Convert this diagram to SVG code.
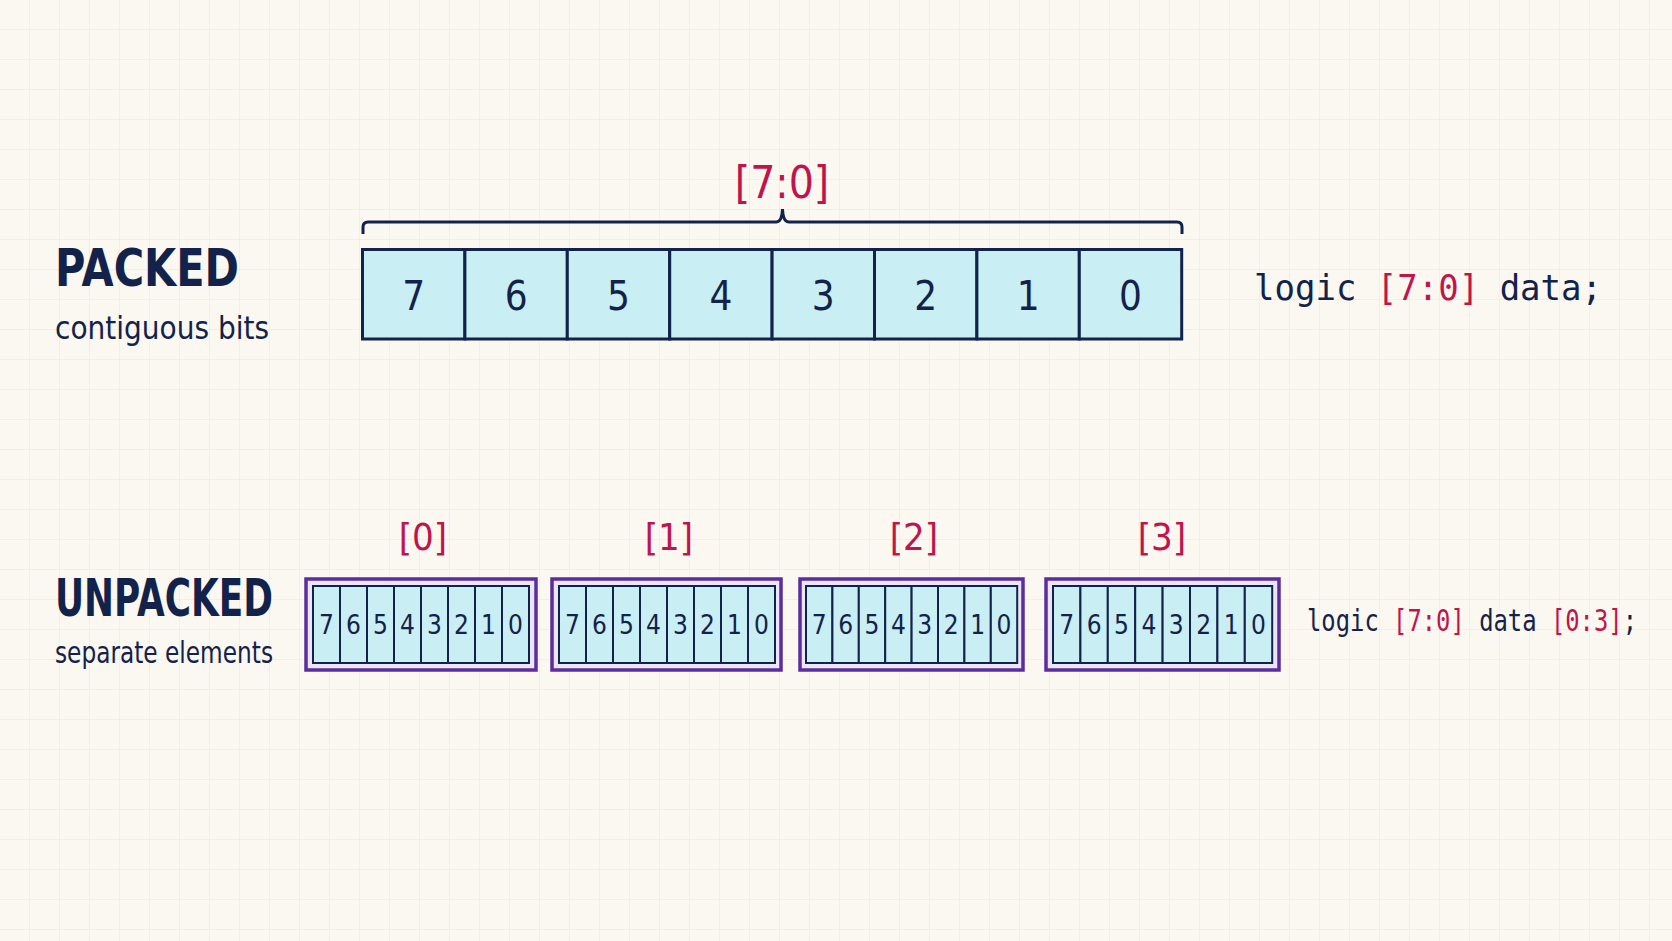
<svg xmlns="http://www.w3.org/2000/svg" width="1672" height="941" viewBox="0 0 1672 941">
<defs>
<pattern id="grid" width="30" height="30" patternUnits="userSpaceOnUse"><path d="M30 0V30H0" fill="none" stroke="#ebe8dc" stroke-width="1"/></pattern>
<style>
.cell{fill:#c9eef3;stroke:#13224a;stroke-width:3}
.icell{fill:#c9eef3;stroke:#13224a;stroke-width:2}
.outer{fill:#ece5f3;stroke:#5b2d9e;stroke-width:3.5}
.num{font-family:"DejaVu Sans Condensed","DejaVu Sans",sans-serif;fill:#13224a;text-anchor:middle}
.red{fill:#c0154a}
.mono{font-family:"DejaVu Sans Mono","Liberation Mono",monospace;fill:#13224a}
.title{font-family:"DejaVu Sans",sans-serif;font-weight:bold;fill:#13224a}
.sub{font-family:"DejaVu Sans",sans-serif;fill:#13224a}
</style>
</defs>
<rect width="1672" height="941" fill="#faf8f0"/>
<rect width="1672" height="941" fill="url(#grid)"/>
<g id="packed-label">
<text class="title" x="55" y="286" font-size="52" textLength="184" lengthAdjust="spacingAndGlyphs">PACKED</text>
<text class="sub" x="55" y="339" font-size="32" textLength="214" lengthAdjust="spacingAndGlyphs">contiguous bits</text>
</g>
<g id="packed-range">
<path d="M363 234V227Q363 222 368 222H776Q782 222 782.5 209Q783 222 789 222H1177Q1182 222 1182 227V234" fill="none" stroke="#13224a" stroke-width="3"/>
<text class="num red" x="782" y="198" font-size="44">[7:0]</text>
</g>
<g id="packed-box">
<rect class="cell" x="362.5" y="249.5" width="102.4" height="89.5"/>
<rect class="cell" x="464.9" y="249.5" width="102.4" height="89.5"/>
<rect class="cell" x="567.3" y="249.5" width="102.4" height="89.5"/>
<rect class="cell" x="669.7" y="249.5" width="102.4" height="89.5"/>
<rect class="cell" x="772.1" y="249.5" width="102.4" height="89.5"/>
<rect class="cell" x="874.5" y="249.5" width="102.4" height="89.5"/>
<rect class="cell" x="976.9" y="249.5" width="102.4" height="89.5"/>
<rect class="cell" x="1079.3" y="249.5" width="102.4" height="89.5"/>
<g class="num" font-size="40">
<text x="413.7" y="310">7</text><text x="516.1" y="310">6</text><text x="618.5" y="310">5</text><text x="720.9" y="310">4</text><text x="823.3" y="310">3</text><text x="925.7" y="310">2</text><text x="1028.1" y="310">1</text><text x="1130.5" y="310">0</text>
</g>
</g>
<g id="packed-code">
<text class="mono" x="1254" y="300" font-size="36" textLength="348" lengthAdjust="spacingAndGlyphs">logic <tspan class="red">[7:0]</tspan> data;</text>
</g>
<g id="unpacked-label">
<text class="title" x="55" y="616" font-size="52" textLength="218" lengthAdjust="spacingAndGlyphs">UNPACKED</text>
<text class="sub" x="55" y="663" font-size="30" textLength="218" lengthAdjust="spacingAndGlyphs">separate elements</text>
</g>
<g id="elem0">
<text class="num red" x="423" y="550" font-size="38">[0]</text>
<rect class="outer" x="306" y="579" width="230" height="91"/>
<g transform="translate(313,586)">
<rect class="icell" x="0" y="0" width="27" height="77"/><rect class="icell" x="27" y="0" width="27" height="77"/><rect class="icell" x="54" y="0" width="27" height="77"/><rect class="icell" x="81" y="0" width="27" height="77"/><rect class="icell" x="108" y="0" width="27" height="77"/><rect class="icell" x="135" y="0" width="27" height="77"/><rect class="icell" x="162" y="0" width="27" height="77"/><rect class="icell" x="189" y="0" width="27" height="77"/>
<g class="num" font-size="26"><text x="13.5" y="48">7</text><text x="40.5" y="48">6</text><text x="67.5" y="48">5</text><text x="94.5" y="48">4</text><text x="121.5" y="48">3</text><text x="148.5" y="48">2</text><text x="175.5" y="48">1</text><text x="202.5" y="48">0</text></g>
</g>
</g>
<g id="elem1">
<text class="num red" x="669" y="550" font-size="38">[1]</text>
<rect class="outer" x="552" y="579" width="229" height="91"/>
<g transform="translate(559,586)">
<rect class="icell" x="0" y="0" width="27" height="77"/><rect class="icell" x="27" y="0" width="27" height="77"/><rect class="icell" x="54" y="0" width="27" height="77"/><rect class="icell" x="81" y="0" width="27" height="77"/><rect class="icell" x="108" y="0" width="27" height="77"/><rect class="icell" x="135" y="0" width="27" height="77"/><rect class="icell" x="162" y="0" width="27" height="77"/><rect class="icell" x="189" y="0" width="27" height="77"/>
<g class="num" font-size="26"><text x="13.5" y="48">7</text><text x="40.5" y="48">6</text><text x="67.5" y="48">5</text><text x="94.5" y="48">4</text><text x="121.5" y="48">3</text><text x="148.5" y="48">2</text><text x="175.5" y="48">1</text><text x="202.5" y="48">0</text></g>
</g>
</g>
<g id="elem2">
<text class="num red" x="914" y="550" font-size="38">[2]</text>
<rect class="outer" x="800" y="579" width="223" height="91"/>
<g transform="translate(806,586)">
<rect class="icell" x="0" y="0" width="26.4" height="77"/><rect class="icell" x="26.4" y="0" width="26.4" height="77"/><rect class="icell" x="52.8" y="0" width="26.4" height="77"/><rect class="icell" x="79.2" y="0" width="26.4" height="77"/><rect class="icell" x="105.6" y="0" width="26.4" height="77"/><rect class="icell" x="132" y="0" width="26.4" height="77"/><rect class="icell" x="158.4" y="0" width="26.4" height="77"/><rect class="icell" x="184.8" y="0" width="26.4" height="77"/>
<g class="num" font-size="26"><text x="13.2" y="48">7</text><text x="39.6" y="48">6</text><text x="66" y="48">5</text><text x="92.4" y="48">4</text><text x="118.8" y="48">3</text><text x="145.2" y="48">2</text><text x="171.6" y="48">1</text><text x="198" y="48">0</text></g>
</g>
</g>
<g id="elem3">
<text class="num red" x="1162" y="550" font-size="38">[3]</text>
<rect class="outer" x="1046" y="579" width="233" height="91"/>
<g transform="translate(1053,586)">
<rect class="icell" x="0" y="0" width="27.4" height="77"/><rect class="icell" x="27.4" y="0" width="27.4" height="77"/><rect class="icell" x="54.8" y="0" width="27.4" height="77"/><rect class="icell" x="82.2" y="0" width="27.4" height="77"/><rect class="icell" x="109.6" y="0" width="27.4" height="77"/><rect class="icell" x="137" y="0" width="27.4" height="77"/><rect class="icell" x="164.4" y="0" width="27.4" height="77"/><rect class="icell" x="191.8" y="0" width="27.4" height="77"/>
<g class="num" font-size="26"><text x="13.7" y="48">7</text><text x="41.1" y="48">6</text><text x="68.5" y="48">5</text><text x="95.9" y="48">4</text><text x="123.3" y="48">3</text><text x="150.7" y="48">2</text><text x="178.1" y="48">1</text><text x="205.5" y="48">0</text></g>
</g>
</g>
<g id="unpacked-code">
<text class="mono" x="1307" y="631" font-size="30" textLength="330" lengthAdjust="spacingAndGlyphs">logic <tspan class="red">[7:0]</tspan> data <tspan class="red">[0:3]</tspan>;</text>
</g>
<g id="connectors"/>
</svg>
